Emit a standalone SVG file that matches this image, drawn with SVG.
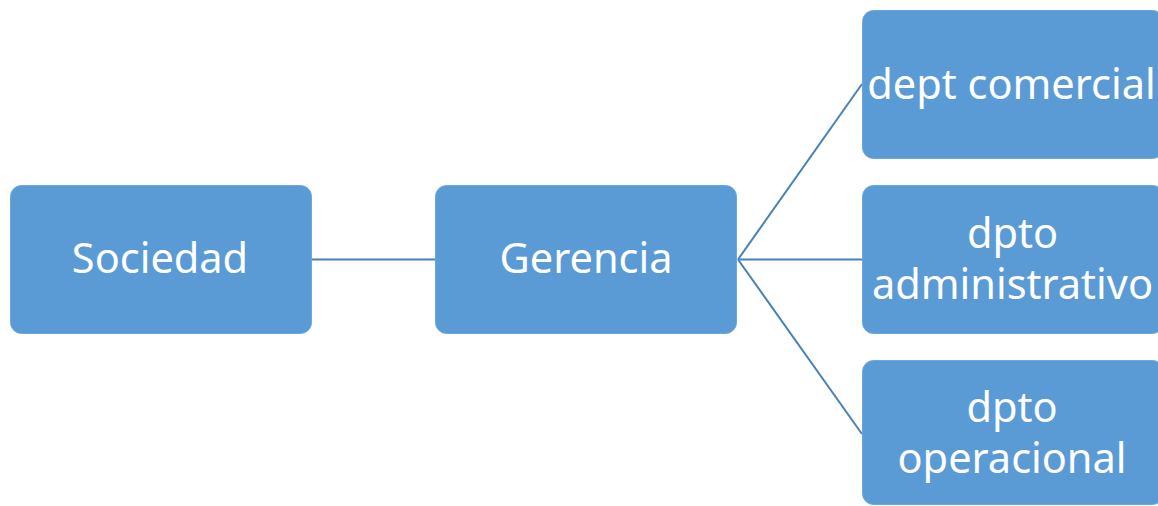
<svg xmlns="http://www.w3.org/2000/svg" width="1158" height="506" viewBox="0 0 1158 506">
<style>
.box{fill:#5b9bd5;stroke:#6ea7db;stroke-width:1}
.lbl{fill:#ffffff;font-family:"Noto Sans","Open Sans",sans-serif;font-size:41.5px;text-anchor:middle}
.con{stroke:#4a80b8;stroke-width:2;fill:none}
</style>
<rect width="1158" height="506" fill="#ffffff"/>
<g id="connectors">
<line class="con" x1="312" y1="259.5" x2="435" y2="259.5"/>
<line class="con" x1="738" y1="259.5" x2="862" y2="84"/>
<line class="con" x1="738" y1="259.5" x2="862" y2="259.5"/>
<line class="con" x1="738" y1="259.5" x2="862" y2="434"/>
</g>
<g id="sociedad">
<rect class="box" x="10.5" y="185.5" width="301" height="148" rx="11"/>
<text class="lbl" x="160" y="273">Sociedad</text>
</g>
<g id="gerencia">
<rect class="box" x="435.5" y="185.5" width="301" height="148" rx="11"/>
<text class="lbl" x="586" y="273">Gerencia</text>
</g>
<g id="dept-comercial">
<rect class="box" x="862.5" y="10.5" width="301" height="148" rx="11"/>
<text class="lbl" x="1011.5" y="99">dept comercial</text>
</g>
<g id="dpto-administrativo">
<rect class="box" x="862.5" y="185.5" width="301" height="148" rx="11"/>
<text class="lbl" x="1012.5" y="248">dpto</text>
<text class="lbl" x="1012.5" y="299">administrativo</text>
</g>
<g id="dpto-operacional">
<rect class="box" x="862.5" y="360.5" width="301" height="144" rx="11"/>
<text class="lbl" x="1012" y="422">dpto</text>
<text class="lbl" x="1012" y="473">operacional</text>
</g>
</svg>
